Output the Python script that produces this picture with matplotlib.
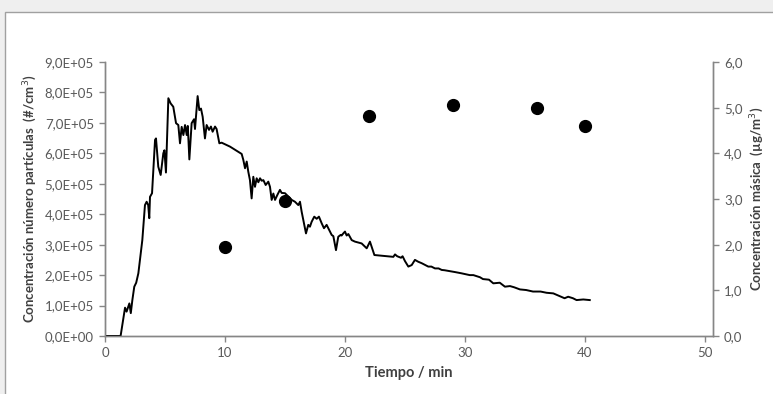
import matplotlib
matplotlib.use("Agg")
import matplotlib.pyplot as plt
from matplotlib.ticker import FuncFormatter, MultipleLocator
from matplotlib.patches import Rectangle

plt.rcParams['font.family'] = ['Lato', 'DejaVu Sans']

# Particle number concentration (line, left axis)
time_min = [0, 1.3, 1.67, 1.8, 2.03, 2.15, 2.28, 2.44, 2.6, 2.78, 3.11, 3.33, 3.47, 3.6, 3.69,
            3.75, 3.92, 4.17, 4.25, 4.44, 4.64, 4.86, 4.95, 5.08, 5.28, 5.47, 5.69, 5.92, 6.11,
            6.25, 6.39, 6.53, 6.67, 6.81, 6.9, 7.03, 7.22, 7.42, 7.5, 7.72, 7.86, 8.0, 8.14,
            8.33, 8.47, 8.67, 8.83, 8.97, 9.17, 9.3, 9.53, 9.72, 10.42, 11.39, 11.53, 11.67,
            11.81, 11.94, 12.08, 12.22, 12.36, 12.5, 12.64, 12.78, 12.92, 13.06, 13.2, 13.39,
            13.61, 13.75, 13.89, 14.03, 14.17, 14.36, 14.58, 14.72, 15.0, 15.28, 15.56, 15.83,
            16.11, 16.25, 16.39, 16.53, 16.75, 16.94, 17.08, 17.22, 17.44, 17.64, 17.83, 18.06,
            18.25, 18.47, 18.69, 18.89, 19.03, 19.25, 19.44, 19.64, 19.72, 19.86, 20.0, 20.14,
            20.28, 20.56, 20.83, 21.11, 21.39, 21.67, 21.81, 22.08, 22.22, 22.45, 23.2, 24.03,
            24.17, 24.35, 24.67, 24.8, 25.0, 25.28, 25.56, 25.83, 26.1, 26.4, 26.7, 26.94, 27.2,
            27.5, 27.8, 28.06, 28.3, 28.6, 28.9, 29.17, 29.7, 30.4, 30.7, 31.25, 31.5, 32.0,
            32.36, 32.9, 33.33, 33.75, 34.1, 34.58, 35.1, 35.67, 36.3, 36.8, 37.36, 37.9, 38.3,
            38.6, 39.0, 39.3, 39.86, 40.4]
number_conc = [0, 0, 93e3, 80e3, 107e3, 75e3, 118e3, 162e3, 175e3, 206e3, 315e3, 430e3, 441e3,
               430e3, 387e3, 457e3, 469e3, 644e3, 649e3, 556e3, 529e3, 600e3, 610e3, 537e3,
               781e3, 764e3, 753e3, 699e3, 693e3, 633e3, 687e3, 660e3, 693e3, 660e3, 690e3,
               580e3, 699e3, 712e3, 680e3, 788e3, 742e3, 747e3, 720e3, 649e3, 693e3, 677e3,
               688e3, 671e3, 688e3, 680e3, 633e3, 635e3, 622e3, 598e3, 578e3, 551e3, 573e3,
               540e3, 512e3, 452e3, 523e3, 490e3, 518e3, 505e3, 518e3, 510e3, 512e3, 496e3,
               507e3, 490e3, 447e3, 468e3, 447e3, 463e3, 480e3, 470e3, 469e3, 458e3, 447e3,
               441e3, 430e3, 441e3, 408e3, 381e3, 337e3, 365e3, 359e3, 375e3, 392e3, 385e3,
               392e3, 370e3, 354e3, 365e3, 348e3, 332e3, 328e3, 282e3, 326e3, 332e3, 330e3,
               337e3, 343e3, 330e3, 335e3, 315e3, 310e3, 307e3, 304e3, 293e3, 288e3, 310e3,
               293e3, 266e3, 263e3, 260e3, 268e3, 262e3, 257e3, 262e3, 246e3, 228e3, 233e3,
               250e3, 244e3, 239e3, 233e3, 228e3, 228e3, 222e3, 222e3, 217e3, 216e3, 214e3,
               212e3, 210e3, 206e3, 200e3, 200e3, 193e3, 187e3, 185e3, 173e3, 175e3, 162e3,
               164e3, 160e3, 153e3, 151e3, 146e3, 146e3, 142e3, 140e3, 131e3, 124e3, 129e3,
               124e3, 118e3, 120e3, 118e3]

# Mass concentration (points, right axis)
mass_time = [10, 15, 22, 29, 36, 40]
mass_conc = [1.95, 2.96, 4.82, 5.06, 5.0, 4.6]

W, H = 773, 394
fig = plt.figure(figsize=(W / 100, H / 100), dpi=100)
fig.patch.set_facecolor('#efefef')
panel = Rectangle((5 / W, -0.01), 1.0, (H - 12) / H + 0.01,
                  transform=fig.transFigure, facecolor='white',
                  edgecolor='#a0a0a0', linewidth=1.0, zorder=-10)
fig.add_artist(panel)

ax = fig.add_axes([105 / W, (H - 336) / H, (713 - 105) / W, (336 - 62) / H])
ax.set_facecolor('none')
ax2 = ax.twinx()
ax2.set_facecolor('none')

tick_color = '#595959'
spine_color = '#868686'

ax.plot(time_min, number_conc, color='black', linewidth=1.4, zorder=3)
ax2.plot(mass_time, mass_conc, 'o', color='black', markersize=8.5, zorder=4)

ax.set_xlim(0, 50.67)
ax.set_ylim(0, 9e5)
ax2.set_ylim(0, 6)
ax.xaxis.set_major_locator(MultipleLocator(10))
ax.yaxis.set_major_locator(MultipleLocator(1e5))
ax2.yaxis.set_major_locator(MultipleLocator(1))

def sci_fmt(v, pos):
    if v == 0:
        return '0,0E+00'
    return ('%.1fE+05' % (v / 1e5)).replace('.', ',')

ax.yaxis.set_major_formatter(FuncFormatter(sci_fmt))
ax2.yaxis.set_major_formatter(FuncFormatter(lambda v, p: ('%.1f' % v).replace('.', ',')))

for a in (ax, ax2):
    a.spines['top'].set_visible(False)
    for s in ('left', 'right', 'bottom'):
        a.spines[s].set_color(spine_color)
        a.spines[s].set_linewidth(1.0)
    a.tick_params(axis='both', colors=spine_color, labelcolor=tick_color,
                  labelsize=9.5, length=4, width=1.0, direction='out', pad=4)

ax.set_xlabel('Tiempo / min', fontsize=10.5, fontweight='bold', color='#404040', labelpad=5)
ax.set_ylabel('Concentración número partículas  (#/cm$^{3}$)', fontsize=9.5,
              fontweight='bold', color='#404040', labelpad=4)
ax2.set_ylabel('Concentración másica  (µg/m$^{3}$)', fontsize=9.5,
               fontweight='bold', color='#404040', labelpad=4)

fig.savefig('out.png', dpi=100, facecolor=fig.get_facecolor())
